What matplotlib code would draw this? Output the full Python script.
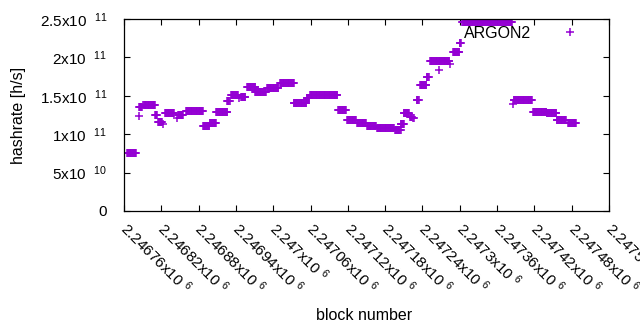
import numpy as np
import matplotlib
matplotlib.use('Agg')
import matplotlib.pyplot as plt
import matplotlib.transforms as mtransforms

# runs of (first block, last block, hashrate)
run_start = [2246765, 2246784, 2246784, 2246791, 2246810, 2246815, 2246823,
             2246826, 2246845, 2246847, 2246860, 2246887, 2246898, 2246908,
             2246926, 2246932, 2246945, 2246948, 2246958, 2246971, 2246990,
             2247011, 2247033, 2247054, 2247059, 2247104, 2247119, 2247135,
             2247151, 2247167, 2247196, 2247205, 2247210, 2247220, 2247225,
             2247231, 2247236, 2247247, 2247252, 2247267, 2247284, 2247289,
             2247300, 2247304, 2247386, 2247387, 2247418, 2247440, 2247456,
             2247474]
run_end = [2246779, 2246784, 2246789, 2246810, 2246813, 2246821, 2246823,
           2246840, 2246845, 2246855, 2246887, 2246897, 2246908, 2246926,
           2246930, 2246943, 2246945, 2246955, 2246971, 2246988, 2247008,
           2247033, 2247053, 2247058, 2247103, 2247117, 2247133, 2247149,
           2247165, 2247194, 2247205, 2247210, 2247218, 2247223, 2247226,
           2247234, 2247246, 2247250, 2247283, 2247267, 2247284, 2247299,
           2247302, 2247384, 2247386, 2247416, 2247439, 2247455, 2247471,
           2247487]
run_value = [7.6e10, 1.233e11, 1.35e11, 1.376e11, 1.25e11, 1.16e11, 1.13e11,
             1.27e11, 1.21e11, 1.25e11, 1.30e11, 1.107e11, 1.15e11, 1.285e11,
             1.43e11, 1.51e11, 1.47e11, 1.49e11, 1.61e11, 1.55e11, 1.60e11,
             1.663e11, 1.40e11, 1.47e11, 1.51e11, 1.31e11, 1.185e11, 1.14e11,
             1.107e11, 1.077e11, 1.055e11, 1.13e11, 1.27e11, 1.23e11, 1.21e11,
             1.45e11, 1.64e11, 1.74e11, 1.957e11, 1.836e11, 1.92e11, 2.07e11,
             2.19e11, 2.457e11, 1.39e11, 1.445e11, 1.29e11, 1.27e11, 1.19e11,
             1.14e11]

x_ticks = [2246760, 2246820, 2246880, 2246940, 2247000, 2247060, 2247120,
           2247180, 2247240, 2247300, 2247360, 2247420, 2247480, 2247540]
x_labels = ['2.24676x10 $^{6}$', '2.24682x10 $^{6}$', '2.24688x10 $^{6}$',
            '2.24694x10 $^{6}$', '2.247x10 $^{6}$', '2.24706x10 $^{6}$',
            '2.24712x10 $^{6}$', '2.24718x10 $^{6}$', '2.24724x10 $^{6}$',
            '2.2473x10 $^{6}$', '2.24736x10 $^{6}$', '2.24742x10 $^{6}$',
            '2.24748x10 $^{6}$', '2.24754x10 $^{6}$']
y_ticks = [0, 5e10, 1e11, 1.5e11, 2e11, 2.5e11]
y_labels = ['0', '5x10  $^{10}$', '1x10  $^{11}$', '1.5x10  $^{11}$',
            '2x10  $^{11}$', '2.5x10  $^{11}$']

plt.rcParams['font.family'] = ['Liberation Sans', 'DejaVu Sans']
plt.rcParams['mathtext.fontset'] = 'custom'
plt.rcParams['mathtext.rm'] = 'Liberation Sans'
plt.rcParams['mathtext.it'] = 'Liberation Sans:italic'
plt.rcParams['mathtext.bf'] = 'Liberation Sans:bold'

blocks = []
rates = []
for s, e, v in zip(run_start, run_end, run_value):
    for b in range(s, e + 1):
        blocks.append(b)
        rates.append(v)

fig = plt.figure(figsize=(6.4, 3.3), dpi=100)
ax = fig.add_axes([124 / 640, 1 - 211 / 330, 485 / 640, 192 / 330])

ax.plot(blocks, rates, linestyle='none', marker='+', markersize=5.5,
        markeredgewidth=1.1, color='#9400d3', label='ARGON2')

ax.set_xlim(2246760, 2247540)
ax.set_ylim(0, 2.5e11)
ax.set_xticks(x_ticks)
ax.set_xticklabels(x_labels, rotation=-45, ha='left', va='top',
                   rotation_mode='anchor', fontsize=11)
ax.set_yticks(y_ticks)
ax.set_yticklabels(y_labels, fontsize=11)
ax.tick_params(direction='in', length=4, width=0.8, top=True, right=True)
ax.tick_params(axis='x', pad=6)
ax.tick_params(axis='y', pad=12)
for sp in ax.spines.values():
    sp.set_linewidth(0.9)

# nudge the rotated labels right so they start at the tick like gnuplot
shift = mtransforms.ScaledTranslation(6 / 100, 0, fig.dpi_scale_trans)
for lbl in ax.get_xticklabels():
    lbl.set_transform(lbl.get_transform() + shift)

ax.set_xlabel('block number', fontsize=11.5)
ax.set_ylabel('hashrate [h/s]', fontsize=11.5)
ax.xaxis.set_label_coords(0.495, -0.505)
ax.yaxis.set_label_coords(-0.203, 0.5)

ax.legend(loc='upper right', bbox_to_anchor=(0.99, 1.04), frameon=False,
          markerfirst=False, fontsize=11.5, handlelength=2.5,
          handletextpad=1.2)

plt.savefig('out.png', dpi=100)
